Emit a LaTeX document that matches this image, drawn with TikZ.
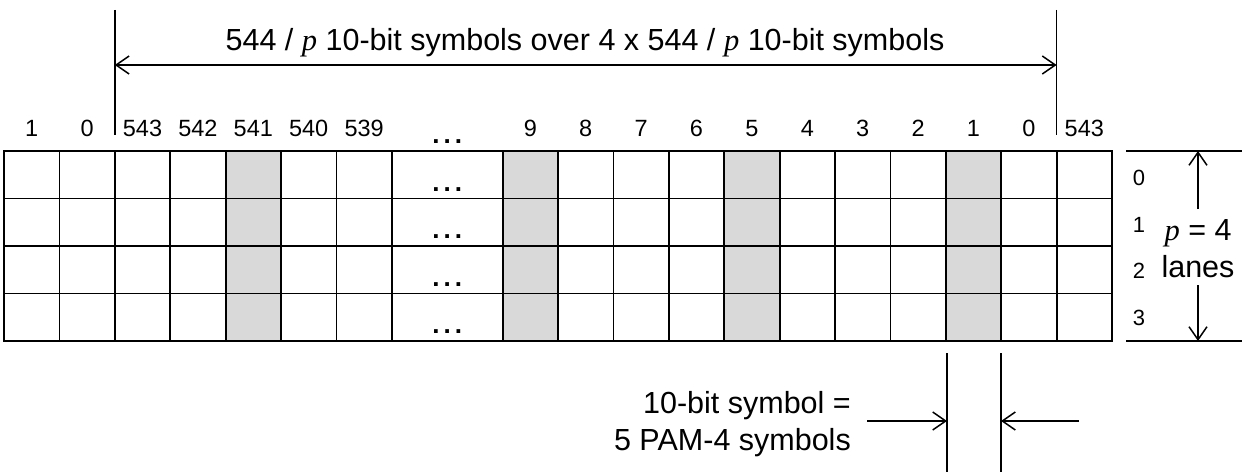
\documentclass[tikz,border=0pt]{standalone}
\usepackage{fontspec}
\setmainfont{Liberation Sans}
\newfontfamily\pserif{Liberation Serif}
\usetikzlibrary{arrows.meta}
\newcommand{\pvar}{{\pserif\itshape p}}
\begin{document}
\begin{tikzpicture}[x=1pt,y=-1pt,
  gridline/.style={line width=1.8pt},
  dimline/.style={line width=1.5pt},
  arr/.style={dimline,-{Straight Barb[length=13pt,width=18pt,line width=1.5pt]}},
  arrboth/.style={dimline,{Straight Barb[length=13pt,width=18pt,line width=1.5pt]}-{Straight Barb[length=13pt,width=18pt,line width=1.5pt]}},
  big/.style={font=\fontsize{30.5}{34}\selectfont, inner sep=0pt},
  collab/.style={font=\fontsize{23.5}{26}\selectfont, inner sep=0pt, anchor=base},
  lanelab/.style={font=\fontsize{22}{24}\selectfont, inner sep=0pt, anchor=base},
  dots/.style={font=\bfseries\fontsize{26}{28}\selectfont, inner sep=0pt, anchor=base},
  shade/.style={fill=black!15}]
\useasboundingbox (0,0) rectangle (1242,476);
\def\w{55.4}
\def\xl{4}
% shaded columns
\foreach \u in {4,9,13,17}{
  \fill[shade] ({\xl+\u*\w},151) rectangle ({\xl+(\u+1)*\w},341);
}
% grid
\draw[gridline] (\xl,151) rectangle ({\xl+20*\w},341);
\foreach \yy in {198.5,246,293.5}
  \draw[gridline] (\xl,\yy) -- ({\xl+20*\w},\yy);
\foreach \u in {1,...,7,9,10,...,19}
  \draw[gridline] ({\xl+\u*\w},151) -- ({\xl+\u*\w},341);
% column labels
\foreach \u/\t in {0/1,1/0,2/543,3/542,4/541,5/540,6/539,9/9,10/8,11/7,12/6,13/5,14/4,15/3,16/2,17/1,18/0,19/543}
  \node[collab] (c\u) at ({\xl+(\u+0.5)*\w},137) {\t};
% dots
\node[dots] (dt) at ({\xl+8*\w},144) {.\kern4pt.\kern4pt.};
\foreach \yy/\n in {191/0,238/1,286/2,333/3}
  \node[dots] (d\n) at ({\xl+8*\w},\yy) {.\kern4pt.\kern4pt.};
% top dimension
\coordinate (lt) at ({\xl+2*\w},10);
\coordinate (lb) at ({\xl+2*\w},135);
\coordinate (rt) at ({\xl+19*\w},10);
\coordinate (rb) at ({\xl+19*\w},135);
\draw[dimline] (lt) -- (lb);
\draw[dimline] (rt) -- (rb);
\coordinate (al) at ({\xl+2*\w},65);
\coordinate (ar) at ({\xl+19*\w},65);
\draw[arrboth] (al) -- (ar);
\node[big, anchor=base] (title) at (585,51) {544 / \pvar{} 10-bit symbols over 4 x 544 / \pvar{} 10-bit symbols};
% lanes
\coordinate (ltop1) at (1126,151);
\coordinate (ltop2) at (1242,151);
\coordinate (lbot1) at (1126,341);
\coordinate (lbot2) at (1242,341);
\draw[dimline] (ltop1) -- (ltop2);
\draw[dimline] (lbot1) -- (lbot2);
\foreach \yy/\t in {185/0,232/1,278/2,325/3}
  \node[lanelab] (lane\t) at (1139,\yy) {\t};
\coordinate (up0) at (1198,209);
\coordinate (up1) at (1198,151);
\coordinate (dn0) at (1198,285);
\coordinate (dn1) at (1198,341);
\draw[arr] (up0) -- (up1);
\draw[arr] (dn0) -- (dn1);
\node[big, anchor=base] (peq) at (1198,240) {\pvar{} = 4};
\node[big, anchor=base] (lanes) at (1198,277) {lanes};
% bottom symbol width
\coordinate (v1t) at (947,353);
\coordinate (v1b) at (947,472);
\coordinate (v2t) at (1001,353);
\coordinate (v2b) at (1001,472);
\draw[dimline] (v1t) -- (v1b);
\draw[dimline] (v2t) -- (v2b);
\coordinate (a1s) at (867,421);
\coordinate (a1e) at (947,421);
\coordinate (a2s) at (1079,421);
\coordinate (a2e) at (1001,421);
\draw[arr] (a1s) -- (a1e);
\draw[arr] (a2s) -- (a2e);
\node[big, anchor=base east] (sym1) at (851,413) {10-bit symbol =};
\node[big, anchor=base east] (sym2) at (851,450) {5 PAM-4 symbols};
\end{tikzpicture}
\end{document}
